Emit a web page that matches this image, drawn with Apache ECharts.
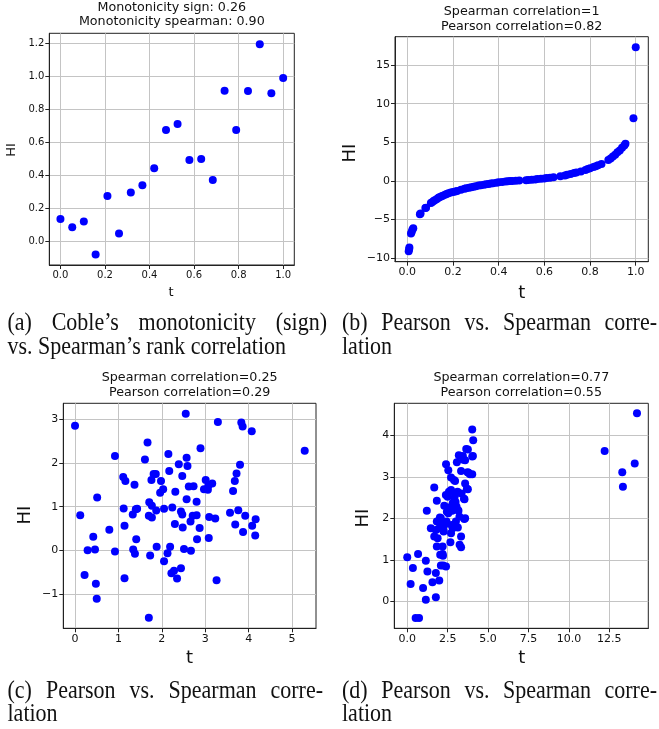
<!DOCTYPE html>
<html>
<head>
<meta charset="utf-8">
<script src="https://cdn.jsdelivr.net/npm/echarts@6/dist/echarts.min.js"></script>
<style>
html,body{margin:0;padding:0;background:#fff;}
#chart{width:659px;height:729px;}
</style>
</head>
<body>
<div id="chart"></div>
<script>
// ---------- Data ----------
// (a) Coble's monotonicity
const aT  = [0, 0.053, 0.105, 0.158, 0.211, 0.263, 0.316, 0.368, 0.421, 0.474, 0.526, 0.579, 0.632, 0.684, 0.737, 0.789, 0.842, 0.895, 0.947, 1.0];
const aHI = [0.137, 0.087, 0.123, -0.077, 0.277, 0.05, 0.299, 0.343, 0.446, 0.677, 0.713, 0.495, 0.501, 0.374, 0.915, 0.677, 0.913, 1.196, 0.899, 0.992];

// (b) Spearman=1, Pearson=0.82
const bT  = [0.006, 0.008, 0.009, 0.016, 0.019, 0.022, 0.026, 0.055, 0.058, 0.079, 0.082, 0.103, 0.108, 0.115, 0.12, 0.128, 0.135, 0.14, 0.148, 0.155, 0.165, 0.172, 0.18, 0.19, 0.2, 0.21, 0.218, 0.235, 0.25, 0.258, 0.27, 0.28, 0.29, 0.3, 0.312, 0.322, 0.335, 0.345, 0.355, 0.365, 0.375, 0.39, 0.4, 0.415, 0.43, 0.44, 0.45, 0.46, 0.475, 0.49, 0.52, 0.53, 0.545, 0.56, 0.57, 0.585, 0.6, 0.61, 0.625, 0.64, 0.67, 0.69, 0.7, 0.715, 0.73, 0.74, 0.76, 0.78, 0.79, 0.8, 0.815, 0.825, 0.835, 0.85, 0.88, 0.89, 0.9, 0.91, 0.92, 0.93, 0.94, 0.95, 0.955, 0.99, 1.0];
const bHI = [-9.1, -8.8, -8.6, -6.8, -6.6, -6.3, -6.1, -4.3, -4.2, -3.5, -3.45, -2.85, -2.75, -2.6, -2.5, -2.35, -2.2, -2.1, -2.0, -1.9, -1.78, -1.7, -1.6, -1.5, -1.42, -1.35, -1.28, -1.12, -1.02, -0.95, -0.86, -0.8, -0.74, -0.68, -0.6, -0.55, -0.48, -0.43, -0.38, -0.33, -0.28, -0.22, -0.18, -0.12, -0.08, -0.04, -0.01, 0.0, 0.04, 0.06, 0.1, 0.12, 0.16, 0.2, 0.24, 0.28, 0.33, 0.37, 0.42, 0.48, 0.6, 0.72, 0.8, 0.9, 1.02, 1.1, 1.24, 1.42, 1.55, 1.65, 1.8, 1.92, 2.05, 2.2, 2.7, 2.9, 3.15, 3.4, 3.7, 3.95, 4.3, 4.6, 4.8, 8.1, 17.3];

// (c) Spearman=0.25, Pearson=0.29
const cT  = [0, 0.12, 0.22, 0.29, 0.42, 0.46, 0.48, 0.50, 0.51, 0.79, 0.92, 0.92, 1.11, 1.12, 1.14, 1.16, 1.14, 1.33, 1.34, 1.37, 1.38, 1.40, 1.41, 1.43, 1.61, 1.67, 1.70, 1.71, 1.73, 1.70, 1.76, 1.77, 1.77, 1.81, 1.86, 1.87, 1.88, 1.96, 1.98, 2.03, 2.05, 2.05, 2.13, 2.15, 2.17, 2.19, 2.22, 2.24, 2.28, 2.30, 2.31, 2.35, 2.39, 2.44, 2.44, 2.47, 2.47, 2.48, 2.51, 2.55, 2.57, 2.57, 2.59, 2.62, 2.66, 2.67, 2.71, 2.73, 2.80, 2.81, 2.80, 2.87, 2.89, 2.97, 3.01, 3.06, 3.07, 3.09, 3.08, 3.16, 3.23, 3.26, 3.29, 3.57, 3.64, 3.68, 3.69, 3.72, 3.76, 3.80, 3.83, 3.86, 3.87, 3.92, 4.07, 4.08, 4.15, 4.16, 5.29];
const cHI = [2.855, 0.80, -0.57, 0.00, 0.31, 0.02, -0.77, -1.11, 1.21, 0.47, 2.16, -0.03, 1.68, 0.96, 0.56, 1.59, -0.64, 0.82, 0.02, 1.50, -0.08, 0.94, 0.25, 0.95, 2.08, 2.47, 0.79, 1.10, -0.12, -1.55, 1.61, 1.02, 0.75, 1.75, 1.75, 0.91, 0.08, 1.32, 1.59, 1.40, 0.95, -0.25, -0.07, 2.21, 1.82, 0.08, -0.53, 0.98, -0.47, 0.60, 1.34, -0.65, 1.97, -0.41, 0.89, 1.70, 0.82, 0.52, 0.03, 3.13, 1.17, 2.12, 1.93, 1.46, 0.66, -0.01, 0.79, 1.47, 1.11, 0.25, 0.80, 0.51, 2.34, 1.40, 1.61, 1.39, 1.48, 0.76, 0.28, 1.53, 0.73, -0.69, 2.94, 0.86, 1.36, 1.59, 0.59, 1.76, 0.92, 1.96, 2.93, 2.84, 0.42, 0.79, 2.73, 0.56, 0.34, 0.71, 2.28];

// (d) Spearman=0.77, Pearson=0.55
const dT  = [2.40, 2.54, 2.71, 2.96, 3.33, 3.19, 3.44, 3.58, 3.75, 4.06, 4.02, 4.08, 3.79, 4.02, 1.67, 3.58, 3.75, 1.83, 2.71, 2.50, 2.96, 3.54, 1.21, 2.29, 2.81, 3.13, 2.54, 2.08, 3.23, 3.58, 1.46, 1.83, 2.29, 2.81, 3.13, 1.77, 2.25, 2.71, 3.33, 1.67, 1.88, 2.67, 1.83, 2.19, 3.33, 2.04, 2.19, 0.00, 0.67, 1.15, 2.08, 2.40, 0.35, 1.25, 1.77, 1.98, 1.56, 0.21, 0.98, 1.15, 1.77, 0.52, 0.73, 2.02, 2.16, 2.23, 2.43, 2.45, 2.58, 2.74, 2.78, 2.85, 2.89, 2.91, 2.99, 3.01, 3.05, 3.07, 3.11, 3.17, 3.24, 3.36, 3.47, 3.51, 3.53, 3.65, 3.69, 3.73, 3.88, 4.02, 2.39, 2.54, 1.98, 2.21, 2.23, 12.21, 13.30, 13.34, 14.07, 14.21];
const dHI = [3.30, 3.16, 2.98, 2.90, 3.14, 3.52, 3.50, 3.40, 3.66, 3.50, 4.14, 3.88, 3.10, 3.06, 2.74, 2.84, 2.70, 2.42, 2.68, 2.52, 2.56, 2.46, 2.18, 2.30, 2.36, 2.20, 2.12, 2.00, 2.04, 2.00, 1.76, 1.92, 1.84, 1.76, 1.78, 1.72, 1.68, 1.64, 1.56, 1.56, 1.52, 1.42, 1.32, 1.32, 1.30, 1.12, 1.14, 1.06, 1.14, 0.98, 0.86, 0.84, 0.80, 0.72, 0.68, 0.50, 0.46, 0.42, 0.32, 0.04, 0.10, -0.40, -0.40, 2.02, 1.88, 1.71, 1.92, 2.16, 2.64, 1.84, 2.18, 2.32, 2.92, 2.48, 2.39, 1.92, 2.28, 3.35, 2.64, 2.18, 1.36, 2.60, 3.41, 2.47, 1.98, 3.67, 2.71, 3.11, 3.06, 3.49, 2.56, 2.26, 1.76, 1.10, 0.86, 3.62, 3.11, 2.76, 3.32, 4.53];

// Tick values
const aXTicks = [0, 0.2, 0.4, 0.6, 0.8, 1.0];
const aYTicks = [0, 0.2, 0.4, 0.6, 0.8, 1.0, 1.2];
const bXTicks = [0, 0.2, 0.4, 0.6, 0.8, 1.0];
const bYTicks = [-10, -5, 0, 5, 10, 15];
const cXTicks = [0, 1, 2, 3, 4, 5];
const cYTicks = [-1, 0, 1, 2, 3];
const dXTicks = [0, 2.5, 5, 7.5, 10, 12.5];
const dYTicks = [0, 1, 2, 3, 4];

const titles = [
  ['Monotonicity sign: 0.26', 'Monotonicity spearman: 0.90'],
  ['Spearman correlation=1', 'Pearson correlation=0.82'],
  ['Spearman correlation=0.25', 'Pearson correlation=0.29'],
  ['Spearman correlation=0.77', 'Pearson correlation=0.55']
];

// ---------- Layout ----------
const W = 659, H = 729;
const boxes = [
  {l: 49.3, r: 294.3, t: 33.3, b: 265.0, xr: [-0.05, 1.05],  yr: [-0.141, 1.263], xt: aXTicks, yt: aYTicks, xd: 1, yd: 1, fs: 10},
  {l: 395.0, r: 648.3, t: 36.7, b: 261.7, xr: [-0.054, 1.055], yr: [-10.44, 18.66], xt: bXTicks, yt: bYTicks, xd: 1, yd: 0, fs: 11},
  {l: 63.3, r: 316.0, t: 403.3, b: 628.3, xr: [-0.27, 5.55],  yr: [-1.79, 3.37],  xt: cXTicks, yt: cYTicks, xd: 0, yd: 0, fs: 11},
  {l: 394.3, r: 648.3, t: 403.3, b: 628.3, xr: [-0.80, 14.91], yr: [-0.65, 4.77],  xt: dXTicks, yt: dYTicks, xd: 1, yd: 0, fs: 11}
];
const seriesData = [[aT, aHI], [bT, bHI], [cT, cHI], [dT, dHI]];

function fmt(dec) {
  return function (v) {
    const s = Math.abs(v).toFixed(dec);
    return v < -1e-9 ? '\u2212' + s : s;
  };
}

const grids = [], xAxes = [], yAxes = [], series = [], graphics = [];
const GRID_COLOR = '#c4c4c4';
boxes.forEach((bx, i) => {
  grids.push({left: bx.l, top: bx.t, width: bx.r - bx.l, height: bx.b - bx.t,
    show: true, borderColor: '#222', borderWidth: 1, containLabel: false, backgroundColor: 'transparent'});
  const common = (ticks, dec, fs) => ({
    axisLine: {show: true, onZero: false, lineStyle: {color: '#222', width: 1}},
    axisTick: {show: true, inside: false, length: 4, customValues: ticks, lineStyle: {color: '#222', width: 1}},
    axisLabel: {show: true, customValues: ticks, formatter: fmt(dec), fontSize: fs, color: '#111',
      fontFamily: 'DejaVu Sans', margin: 5},
    splitLine: {show: true, lineStyle: {color: GRID_COLOR, width: 1}}
  });
  xAxes.push(Object.assign({type: 'value', gridIndex: i, min: bx.xr[0], max: bx.xr[1]}, common(bx.xt, bx.xd, bx.fs)));
  yAxes.push(Object.assign({type: 'value', gridIndex: i, min: bx.yr[0], max: bx.yr[1]}, common(bx.yt, bx.yd, bx.fs)));
  const [xs, ys] = seriesData[i];
  series.push({type: 'scatter', xAxisIndex: i, yAxisIndex: i, symbolSize: 8,
    itemStyle: {color: '#0000ff', opacity: 1}, silent: true, animation: false,
    data: xs.map((x, k) => [x, ys[k]])});
  // titles
  const cx = (bx.l + bx.r) / 2;
  const ty = i === 0 ? 7.5 : (i === 1 ? 11.7 : 377.7);
  titles[i].forEach((line, k) => {
    graphics.push({type: 'text', x: cx, y: ty + k * 14.6, silent: true,
      style: {text: line, font: '12.7px "DejaVu Sans"', fill: '#111', textAlign: 'center', textVerticalAlign: 'middle'}});
  });
});

// axis labels
const axisNames = [
  {t: [171, 293, 13], h: [12, 150, 13]},
  {t: [521.7, 293, 18], h: [350.7, 153, 18]},
  {t: [189.5, 658, 18], h: [25, 515, 18]},
  {t: [521.7, 658, 18], h: [363, 518, 18]}
];
axisNames.forEach(a => {
  graphics.push({type: 'text', x: a.t[0], y: a.t[1], silent: true,
    style: {text: 't', font: a.t[2] + 'px "DejaVu Sans"', fill: '#111', textAlign: 'center', textVerticalAlign: 'middle'}});
  graphics.push({type: 'text', x: a.h[0], y: a.h[1], rotation: Math.PI / 2, silent: true,
    style: {text: 'HI', font: a.h[2] + 'px "DejaVu Sans"', fill: '#111', textAlign: 'center', textVerticalAlign: 'middle'}});
});

// captions (justified like LaTeX)
const CAP_FONT = '22px "Liberation Serif"';
const CAP_SY = 1.18;
const meas = document.createElement('canvas').getContext('2d');
meas.font = CAP_FONT;
function capText(str, x, y) {
  graphics.push({type: 'text', x: x, y: y, scaleY: CAP_SY, silent: true,
    style: {text: str, font: CAP_FONT, fill: '#111', textAlign: 'left', textVerticalAlign: 'middle'}});
}
function capLine(words, left, right, y, justify) {
  if (!justify) { capText(words.join(' '), left, y); return; }
  const widths = words.map(w => meas.measureText(w).width);
  const total = widths.reduce((s, v) => s + v, 0);
  const gap = (right - left - total) / (words.length - 1);
  let x = left;
  words.forEach((w, k) => { capText(w, x, y); x += widths[k] + gap; });
}
capLine(['(a)', 'Coble\u2019s', 'monotonicity', '(sign)'], 7.5, 327, 323, true);
capLine(['vs.', 'Spearman\u2019s', 'rank', 'correlation'], 7.5, 0, 347, false);
capLine(['(b)', 'Pearson', 'vs.', 'Spearman', 'corre-'], 342, 657, 323, true);
capLine(['lation'], 342, 0, 347, false);
capLine(['(c)', 'Pearson', 'vs.', 'Spearman', 'corre-'], 7.5, 323, 691, true);
capLine(['lation'], 7.5, 0, 714, false);
capLine(['(d)', 'Pearson', 'vs.', 'Spearman', 'corre-'], 342, 657, 691, true);
capLine(['lation'], 342, 0, 714, false);

const chart = echarts.init(document.getElementById('chart'), null, {renderer: 'canvas', width: W, height: H});
chart.setOption({
  animation: false,
  backgroundColor: '#fff',
  grid: grids,
  xAxis: xAxes,
  yAxis: yAxes,
  series: series,
  graphic: graphics
});
</script>
</body>
</html>
